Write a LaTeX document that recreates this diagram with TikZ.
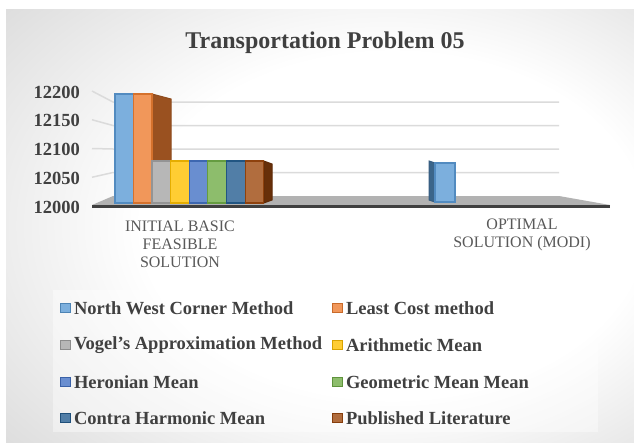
\documentclass[tikz,border=0pt]{standalone}
\usepackage{fontspec}
\setmainfont{Liberation Serif}
\usetikzlibrary{positioning}
\definecolor{nwcm}{HTML}{5B9BD5}
\definecolor{lcm}{HTML}{ED7D31}
\definecolor{vam}{HTML}{A5A5A5}
\definecolor{amean}{HTML}{FFC000}
\definecolor{hmean}{HTML}{4472C4}
\definecolor{gmean}{HTML}{70AD47}
\definecolor{chmean}{HTML}{255E91}
\definecolor{publit}{HTML}{9E480E}
\definecolor{txtgray}{HTML}{404040}
\definecolor{catgray}{HTML}{595959}
\pgfdeclareradialshading{chartbg}{\pgfpoint{8bp}{0bp}}{color(0bp)=(white); color(20bp)=(white); color(45bp)=(black!18); color(72bp)=(black!34)}
\tikzset{
  barface/.style={fill=#1!80!white, draw=#1!90!black, line width=1.2pt},
  barside/.style={fill=#1!65!black, draw=#1!60!black, line width=1pt},
  legkey/.style={draw=#1!85!black, fill=#1!80!white, line width=1.2pt, minimum size=9.5pt, inner sep=0pt},
  legtext/.style={font=\bfseries\fontsize{18.5}{20}\selectfont, text=txtgray, inner sep=0pt},
  ylab/.style={font=\bfseries\fontsize{18.5}{20}\selectfont, text=txtgray, anchor=east, inner sep=0pt},
  catlab/.style={font=\fontsize{16}{18}\selectfont, text=catgray, align=center, inner sep=0pt},
  gridline/.style={draw=black!14, line width=1.5pt}
}
\begin{document}
\begin{tikzpicture}[x=1pt,y=-1pt]
\useasboundingbox (0,0) rectangle (634,442);
% chart area
\fill[white] (0,0) rectangle (634,442);
\shade[shading=chartbg] (6,9) rectangle (634,442);
\node[font=\bfseries\fontsize{24}{28}\selectfont, text=txtgray] (title) at (325,43) {Transportation Problem 05};

% walls and gridlines
\foreach \v in {12050,12100,12150,12200} {
  \draw[gridline] (92,{206-(\v-12000)*0.575}) -- (113,{196-(\v-12000)*0.47}) -- (559,{196-(\v-12000)*0.47});
}
\foreach \v in {12000,12050,12100,12150,12200}
  \node[ylab] (y\v) at (80,{207-(\v-12000)*0.575}) {\v};
\fill[black!30] (113,196) -- (559,196) -- (610,205) -- (92,205) -- cycle;
\draw[line width=3pt, txtgray] (92,206.5) -- (610,206.5);

% initial basic feasible solution
\filldraw[barside=lcm] (152,94) -- (171,99) -- (171,200) -- (152,203) -- cycle;
\draw[barface=nwcm] (115,94) rectangle (133.4,203);
\draw[barface=lcm] (133.4,94) rectangle (152,203);
\filldraw[barside=publit] (263.8,161) -- (272,164) -- (272,200) -- (263.8,203) -- cycle;
\foreach \c [count=\i from 0] in {vam,amean,hmean,gmean,chmean,publit}
  \draw[barface=\c] ({152+\i*18.63},161) rectangle ({152+(\i+1)*18.63},203);

% optimal solution
\filldraw[barside=nwcm] (429,161) -- (435,163) -- (435,202) -- (429,200) -- cycle;
\draw[barface=nwcm] (435,163) rectangle (455,202);

\node[catlab] (ibfs) at (180,244) {INITIAL BASIC\\FEASIBLE\\SOLUTION};
\node[catlab] (modi) at (522,235) {OPTIMAL\\SOLUTION (MODI)};

% legend
\fill[white, opacity=0.4] (53,290) rectangle (598,432);
\node[legkey=nwcm] (k1) at (65.5,308) {};
\node[legtext, right=3pt of k1] (l1) {North West Corner Method};
\node[legkey=lcm] (k2) at (337.5,308) {};
\node[legtext, right=3pt of k2] (l2) {Least Cost method};
\node[legkey=vam] (k3) at (65.5,345) {};
\node[legtext, right=3pt of k3] (l3) {Vogel’s Approximation Method};
\node[legkey=amean] (k4) at (337.5,345) {};
\node[legtext, right=3pt of k4] (l4) {Arithmetic Mean};
\node[legkey=hmean] (k5) at (65.5,382) {};
\node[legtext, right=3pt of k5] (l5) {Heronian Mean};
\node[legkey=gmean] (k6) at (337.5,382) {};
\node[legtext, right=3pt of k6] (l6) {Geometric Mean Mean};
\node[legkey=chmean] (k7) at (65.5,418) {};
\node[legtext, right=3pt of k7] (l7) {Contra Harmonic Mean};
\node[legkey=publit] (k8) at (337.5,418) {};
\node[legtext, right=3pt of k8] (l8) {Published Literature};
\end{tikzpicture}
\end{document}
